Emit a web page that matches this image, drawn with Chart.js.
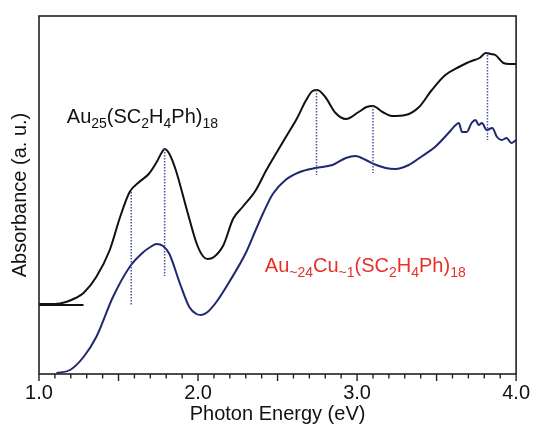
<!DOCTYPE html>
<html>
<head>
<meta charset="utf-8">
<script src="https://cdn.jsdelivr.net/npm/chart.js@4.4.1/dist/chart.umd.min.js"></script>
<style>
	html, body { margin: 0; padding: 0; background: #fff; }
	#wrap { width: 537px; height: 426px; }
</style>
</head>
<body>
<div id="wrap"><canvas id="chart" width="537" height="426"></canvas></div>
<script>
// photon energy (eV) / absorbance (a.u., offset) for Au25(SC2H4Ph)18
var au25Energy = [1.00, 1.10, 1.17, 1.23, 1.28, 1.36, 1.445, 1.51, 1.57, 1.63, 1.69, 1.74, 1.77, 1.79, 1.82,
	1.86, 1.93, 1.99, 2.03, 2.06, 2.10, 2.16, 2.22, 2.28, 2.36, 2.43, 2.50, 2.56, 2.62, 2.68, 2.72, 2.75,
	2.80, 2.865, 2.93, 3.01, 3.06, 3.10, 3.16, 3.22, 3.305, 3.39, 3.47, 3.555, 3.64, 3.69, 3.72, 3.77,
	3.81, 3.84, 3.87, 3.92, 3.96, 4.00];
var au25Abs = [69, 69, 71, 75, 80, 96, 123, 156, 181, 191, 199, 211, 220, 224, 219,
	203, 163, 130, 117, 114, 116, 128, 154, 166, 182, 203, 222, 238, 254, 273, 282, 283,
	276, 260, 254, 261, 266, 267, 261, 257, 258, 266, 283, 298, 306, 310, 312, 315,
	320, 319, 318, 310, 309, 309];

// Au~24Cu~1(SC2H4Ph)18
var cuEnergy = [1.11, 1.195, 1.28, 1.36, 1.465, 1.57, 1.65, 1.70, 1.74, 1.78, 1.82, 1.885, 1.945, 1.99, 2.02,
	2.06, 2.12, 2.20, 2.30, 2.36, 2.41, 2.47, 2.55, 2.64, 2.74, 2.845, 2.93, 2.99, 3.055, 3.105, 3.18, 3.24,
	3.325, 3.41, 3.49, 3.575, 3.62, 3.64, 3.66, 3.69, 3.72, 3.745, 3.765, 3.785, 3.815, 3.85, 3.88,
	3.91, 3.94, 3.97, 4.00];
var cuAbs = [0, 3, 16, 36, 76, 106, 120, 126, 129, 127, 119, 90, 66, 59, 58,
	61, 72, 92, 120, 142, 160, 179, 193, 201, 205, 208, 215, 217, 213, 209, 205, 204,
	208, 217, 226, 240, 248, 250, 241, 241, 250, 253, 248, 250, 243, 245, 236,
	233, 235, 230, 233];

// flat baseline of the Au25 trace
var baseEnergy = [1.00, 1.28];
var baseAbs = [68, 68];

// transition energies marked with dotted lines: [top, bottom] absorbance
var peakEnergy = [1.58, 1.79, 2.745, 3.10, 3.82];
var peakTop = [181, 224, 283, 267, 318];
var peakBottom = [68, 97, 198, 200, 233];

var xTickLabels = ['1.0', '2.0', '3.0', '4.0'];

var FONT = "'Liberation Sans', Arial, Helvetica, sans-serif";

function toPoints(xs, ys) {
	var pts = [];
	for (var i = 0; i < xs.length; i++) pts.push({ x: xs[i], y: ys[i] });
	return pts;
}

var datasets = [];

peakEnergy.forEach(function (e, i) {
	datasets.push({
		data: [{ x: e, y: peakTop[i] }, { x: e, y: peakBottom[i] }],
		borderColor: '#4b4fa6',
		borderWidth: 1.5,
		borderDash: [1.5, 1.5],
		pointRadius: 0,
		fill: false
	});
});

datasets.push({
	data: toPoints(baseEnergy, baseAbs),
	borderColor: '#111',
	borderWidth: 2,
	pointRadius: 0
});

datasets.push({
	data: toPoints(au25Energy, au25Abs),
	borderColor: '#111',
	borderWidth: 2,
	pointRadius: 0,
	cubicInterpolationMode: 'monotone'
});

datasets.push({
	data: toPoints(cuEnergy, cuAbs),
	borderColor: '#1f2770',
	borderWidth: 2,
	pointRadius: 0,
	cubicInterpolationMode: 'monotone'
});

// text with subscripts: parts are [text, isSub]
function drawFormula(ctx, parts, x, y, color) {
	ctx.fillStyle = color;
	ctx.textBaseline = 'alphabetic';
	ctx.textAlign = 'left';
	parts.forEach(function (p) {
		if (p[1]) {
			ctx.font = '14px ' + FONT;
			ctx.fillText(p[0], x, y + 5);
		} else {
			ctx.font = '20px ' + FONT;
			ctx.fillText(p[0], x, y);
		}
		x += ctx.measureText(p[0]).width;
	});
}

var framePlugin = {
	id: 'frame',
	afterDraw: function (chart) {
		var ctx = chart.ctx;
		var a = chart.chartArea;
		var xs = chart.scales.x;
		var ys = chart.scales.y;
		ctx.save();
		ctx.strokeStyle = '#222';
		ctx.lineWidth = 1.6;
		ctx.strokeRect(a.left, a.top, a.right - a.left, a.bottom - a.top);

		// outward ticks, every 0.1 eV, longer on the half volts
		ctx.lineWidth = 1.4;
		for (var k = 10; k <= 40; k++) {
			var px = xs.getPixelForValue(k / 10);
			var len = (k % 5 === 0) ? 7 : 4.5;
			ctx.beginPath();
			ctx.moveTo(px, a.bottom);
			ctx.lineTo(px, a.bottom + len);
			ctx.stroke();
		}

		drawFormula(ctx, [['Au', 0], ['25', 1], ['(SC', 0], ['2', 1], ['H', 0], ['4', 1], ['Ph)', 0], ['18', 1]],
			xs.getPixelForValue(1.175), ys.getPixelForValue(250), '#111');
		drawFormula(ctx, [['Au', 0], ['~24', 1], ['Cu', 0], ['~1', 1], ['(SC', 0], ['2', 1], ['H', 0], ['4', 1], ['Ph)', 0], ['18', 1]],
			xs.getPixelForValue(2.42), ys.getPixelForValue(101), '#e8302a');
		ctx.restore();
	}
};

var ctx = document.getElementById('chart').getContext('2d');
var chart = new Chart(ctx, {
	type: 'line',
	data: { datasets: datasets },
	plugins: [framePlugin],
	options: {
		responsive: false,
		animation: false,
		layout: { padding: { left: 0, right: 20, top: 16, bottom: 0 } },
		plugins: {
			legend: { display: false },
			tooltip: { enabled: false }
		},
		scales: {
			x: {
				type: 'linear',
				min: 1,
				max: 4,
				afterFit: function (scale) { scale.height = 52; },
				afterBuildTicks: function (scale) {
					scale.ticks = xTickLabels.map(function (t) { return { value: parseFloat(t) }; });
				},
				grid: { display: false, drawTicks: false },
				border: { display: false },
				ticks: {
					padding: 7,
					color: '#111',
					font: { family: FONT, size: 20 },
					maxRotation: 0,
					callback: function (v) { return v.toFixed(1); }
				},
				title: {
					display: true,
					text: 'Photon Energy (eV)',
					color: '#111',
					font: { family: FONT, size: 20 },
					padding: { top: 0, bottom: 0 }
				}
			},
			y: {
				min: -1,
				max: 357,
				afterFit: function (scale) { scale.width = 39; },
				grid: { display: false, drawTicks: false },
				border: { display: false },
				ticks: { display: false },
				title: {
					display: true,
					text: 'Absorbance (a. u.)',
					color: '#111',
					font: { family: FONT, size: 20 },
					padding: { top: 8, bottom: 0 }
				}
			}
		}
	}
});
</script>
</body>
</html>
